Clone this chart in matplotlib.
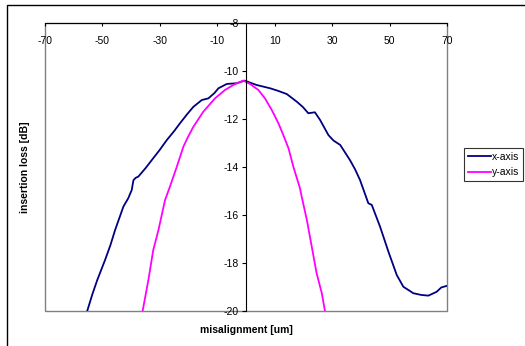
import matplotlib
matplotlib.use('Agg')
import matplotlib.pyplot as plt
from matplotlib.patches import Rectangle

plt.rcParams['font.family'] = ['Liberation Sans', 'DejaVu Sans']
plt.rcParams['axes.unicode_minus'] = False

# x-axis misalignment scan
x_pos = [-55.3, -53.5, -51.8, -49.1, -47.2, -45.6, -42.7, -41.0, -39.8, -39.2, -38.4, -37.5,
         -35.0, -32.8, -30.0, -27.6, -25.0, -23.0, -20.5, -18.3, -15.4, -13.1, -11.0, -9.6,
         -6.7, -3.2, -0.5, 3.6, 8.4, 11.0, 14.2, 17.7, 19.8, 21.7, 24.0, 25.8, 28.7,
         30.5, 32.8, 36.2, 38.0, 39.7, 42.6, 43.8, 46.7, 49.6, 52.5, 54.8, 58.3,
         61.0, 63.5, 66.4, 68.0, 69.7]
x_loss = [-20.0, -19.30, -18.71, -17.88, -17.25, -16.63, -15.65, -15.30, -14.96, -14.55, -14.45, -14.40,
          -14.05, -13.71, -13.28, -12.88, -12.50, -12.18, -11.80, -11.49, -11.21, -11.14, -10.92, -10.72,
          -10.54, -10.51, -10.40, -10.58, -10.72, -10.82, -10.96, -11.28, -11.50, -11.76, -11.72, -12.04, -12.67,
          -12.90, -13.08, -13.71, -14.10, -14.54, -15.51, -15.58, -16.49, -17.53, -18.50, -18.99, -19.26,
          -19.33, -19.36, -19.20, -19.02, -18.96]

# y-axis misalignment scan
y_pos = [-36.0, -34.0, -32.3, -30.5, -28.2, -26.5, -24.1, -21.8, -20.0, -18.3, -14.9,
         -10.8, -7.3, -4.4, -1.0, 1.4, 4.3, 6.6, 9.0, 11.3, 13.0,
         14.8, 16.5, 18.8, 19.4, 21.2, 22.9, 24.6, 26.4, 27.5]
y_loss = [-20.0, -18.71, -17.46, -16.63, -15.38, -14.82, -13.99, -13.15, -12.70, -12.32, -11.70,
          -11.14, -10.79, -10.58, -10.40, -10.54, -10.79, -11.14, -11.63, -12.18, -12.67,
          -13.22, -13.99, -14.89, -15.24, -16.21, -17.32, -18.43, -19.26, -20.0]

x_ticks = [-70, -50, -30, -10, 10, 30, 50, 70]
y_ticks = [-20, -18, -16, -14, -12, -10, -8]

W, H = 525, 346
fig = plt.figure(figsize=(W / 100, H / 100), dpi=100)
ax = fig.add_axes([45 / W, 1 - 311 / H, 402 / W, 288 / H])

ax.plot(x_pos, x_loss, color='#000080', lw=1.3, label='x-axis')
ax.plot(y_pos, y_loss, color='#ff00ff', lw=1.3, label='y-axis')

ax.set_xlim(-70, 70)
ax.set_ylim(-20, -8)
ax.set_xticks(x_ticks)
ax.set_yticks(y_ticks)

for s in ['top', 'right']:
    ax.spines[s].set_visible(False)
ax.spines['left'].set_position(('data', 0))
ax.spines['bottom'].set_position(('data', -8))
ax.spines['left'].set_color('black')
ax.spines['bottom'].set_color('black')
ax.spines['left'].set_zorder(5)
ax.spines['bottom'].set_zorder(5)
ax.add_patch(Rectangle((0, 0), 1, 1, transform=ax.transAxes, fill=False,
                       edgecolor='#808080', lw=1, zorder=1, clip_on=False))

ax.xaxis.set_ticks_position('bottom')
ax.tick_params(axis='x', direction='out', length=2.5, pad=6.5, labelsize=7.5, width=0.8)
ax.tick_params(axis='y', direction='out', length=3, pad=2, labelsize=7.5, width=0.8)

fig.text(246 / W, 1 - 330 / H, 'misalignment [um]', ha='center', va='center',
         fontsize=7.5, fontweight='bold')
fig.text(25 / W, 1 - 167 / H, 'insertion loss [dB]', ha='center', va='center',
         rotation=90, fontsize=7.5, fontweight='bold')

leg = fig.legend(loc='upper left', bbox_to_anchor=(464 / W, 1 - 148 / H),
                 fontsize=7.5, frameon=True, fancybox=False, edgecolor='black',
                 handlelength=2.2, handletextpad=0.1, borderpad=0.35,
                 labelspacing=0.55, borderaxespad=0)
leg.get_frame().set_linewidth(0.8)

fig.add_artist(Rectangle((7 / W, -0.1), 1.2, 1 - 5 / H + 0.1, transform=fig.transFigure,
                         fill=False, edgecolor='black', lw=1))

fig.savefig('out.png', dpi=100)
